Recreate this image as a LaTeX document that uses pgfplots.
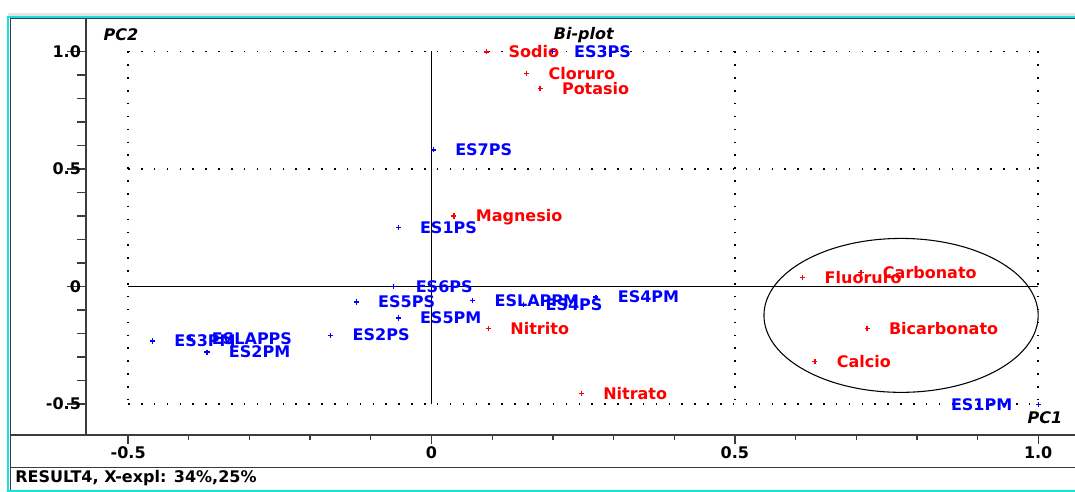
\documentclass[border=0pt]{standalone}
\usepackage{fontspec}
\setmainfont{DejaVu Sans}
\usepackage{pgfplots}
\usepackage{pgfplotstable}
\pgfplotsset{compat=1.18}
\definecolor{frcyan}{RGB}{20,225,225}
\definecolor{frgray}{RGB}{60,60,60}
\definecolor{ltgray}{RGB}{228,228,228}
\definecolor{ptred}{RGB}{255,0,0}
\definecolor{ptblue}{RGB}{0,0,255}
\newcommand\lbl{\fontsize{12}{14}\selectfont\bfseries}

\pgfplotstableread{
x y label
0.091 0.998 Sodio
0.157 0.905 Cloruro
0.179 0.843 Potasio
0.037 0.300 Magnesio
0.612 0.038 Fluoruro
0.708 0.060 Carbonato
0.718 -0.180 Bicarbonato
0.632 -0.320 Calcio
0.094 -0.180 Nitrito
0.247 -0.455 Nitrato
}\vartab

\pgfplotstableread{
x y label
0.199 1.000 ES3PS
0.003 0.581 ES7PS
-0.055 0.250 ES1PS
-0.062 0.000 ES6PS
-0.124 -0.066 ES5PS
0.068 -0.061 ESLAPPM
0.152 -0.077 ES4PS
0.271 -0.045 ES4PM
-0.055 -0.134 ES5PM
-0.166 -0.207 ES2PS
-0.460 -0.232 ES3PM
-0.398 -0.222 ESLAPPS
-0.370 -0.279 ES2PM
}\samtab

\pgfplotstableread{
x y label
1.000 -0.503 ES1PM
}\samtabb

\begin{document}
\begin{tikzpicture}
\useasboundingbox (0pt,0pt) rectangle (806.25pt,-369pt);
\begin{axis}[
  at={(64.5pt,-326.25pt)}, anchor=south west,
  x=455pt, y=176.25pt,
  xmin=-0.5695, xmax=1.0607, ymin=-0.632, ymax=1.1426,
  axis x line*=bottom, axis y line*=left,
  axis line style={-, frgray, line width=1.1pt},
  tick align=outside,
  xtick={-0.5,0,0.5,1.0}, xticklabels={-0.5,0,0.5,1.0},
  ytick={-0.5,0,0.5,1.0}, yticklabels={-0.5,0,0.5,1.0},
  minor xtick={-0.4,-0.3,-0.2,-0.1,0.1,0.2,0.3,0.4,0.6,0.7,0.8,0.9},
  minor ytick={-0.4,-0.3,-0.2,-0.1,0.1,0.2,0.3,0.4,0.6,0.7,0.8,0.9},
  xtick style={/pgfplots/major tick length=7pt, /pgfplots/minor tick length=3.5pt, line width=1pt, frgray},
  ytick style={/pgfplots/major tick length=14.25pt, /pgfplots/minor tick length=6.75pt, line width=1pt, frgray},
  ticklabel style={font=\lbl},
  yticklabel style={xshift=4pt},
  xticklabel style={yshift=-1pt},
  clip=false,
]
% dotted grid
\draw[black, line width=1.15pt, dash pattern=on 1.15pt off 8.5pt]
  (axis cs:-0.5,1.0) -- (axis cs:1.0,1.0)
  (axis cs:-0.5,0.5) -- (axis cs:1.0,0.5)
  (axis cs:-0.5,-0.5) -- (axis cs:1.0,-0.5)
  (axis cs:-0.5,1.0) -- (axis cs:-0.5,-0.5)
  (axis cs:0.5,1.0) -- (axis cs:0.5,-0.5)
  (axis cs:1.0,1.0) -- (axis cs:1.0,-0.5);
% zero lines
\draw[black, line width=1pt] (axis cs:0,1.0) -- (axis cs:0,-0.5);
\draw[black, line width=1pt] (axis cs:-0.5,0) -- (axis cs:1.0,0);
% ellipse
\draw[black, line width=0.8pt] (axis cs:0.774,-0.123) ellipse [x radius=0.226, y radius=0.3275];

\addplot[only marks, mark=+, mark size=1.9pt, ptred, line width=0.9pt,
  point meta=explicit symbolic, nodes near coords={\pgfplotspointmeta},
  every node near coord/.append style={anchor=west, xshift=16pt, inner sep=0pt,
    text height=8.75pt, text depth=0pt, font=\lbl, text=ptred}]
  table[x=x, y=y, meta=label] {\vartab};

\addplot[only marks, mark=+, mark size=1.9pt, ptblue, line width=0.9pt,
  point meta=explicit symbolic, nodes near coords={\pgfplotspointmeta},
  every node near coord/.append style={anchor=west, xshift=16pt, inner sep=0pt,
    text height=8.75pt, text depth=0pt, font=\lbl, text=ptblue}]
  table[x=x, y=y, meta=label] {\samtab};

\addplot[only marks, mark=+, mark size=1.9pt, ptblue, line width=0.9pt,
  point meta=explicit symbolic, nodes near coords={\pgfplotspointmeta},
  every node near coord/.append style={anchor=east, xshift=-19pt, inner sep=0pt,
    text height=8.75pt, text depth=0pt, font=\lbl, text=ptblue}]
  table[x=x, y=y, meta=label] {\samtabb};

\node[font=\lbl\itshape, inner sep=0pt] at (axis cs:-0.512,1.070) {PC2};
\node[font=\lbl\itshape, inner sep=0pt] at (axis cs:0.251,1.070) {Bi-plot};
\node[font=\lbl\itshape, inner sep=0pt] at (axis cs:1.011,-0.5596) {PC1};
\end{axis}
\begin{scope}[x=0.75pt, y=-0.75pt]
  \fill[ltgray] (8,13) rectangle (1075,15.7);
  \fill[frcyan] (8,15.7) rectangle (1075,17.7);
  \draw[frgray, line width=1pt] (9.5,18.3) -- (1075,18.3);
  \fill[frcyan] (7.3,15.7) rectangle (9.4,492);
  \draw[frgray, line width=1pt] (10.4,18) -- (10.4,490);
  \draw[frgray, line width=1.1pt] (10,435) -- (1075,435);
  \draw[frgray, line width=1pt] (10,467.5) -- (1075,467.5);
  \fill[frcyan] (7.3,490) rectangle (1075,492);
  \node[anchor=west, font=\lbl, inner sep=0pt] at (15,478.5) {RESULT4, X-expl: 34\%,25\%};
\end{scope}
\end{tikzpicture}
\end{document}
